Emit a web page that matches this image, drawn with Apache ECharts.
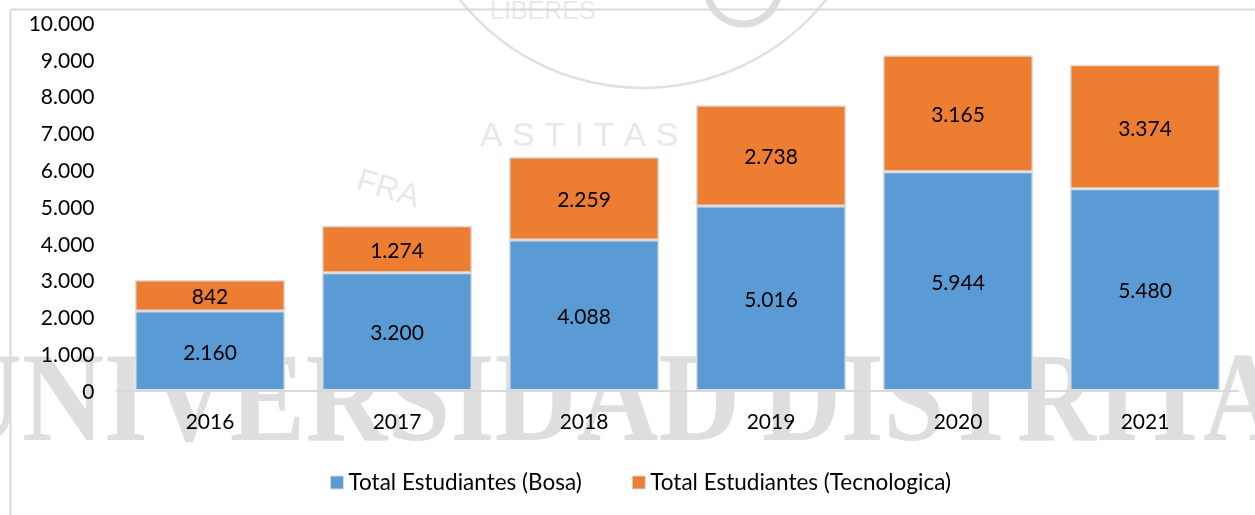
<!DOCTYPE html>
<html><head><meta charset="utf-8">
<style>html,body{margin:0;padding:0;background:#fff}#c{width:1255px;height:515px}</style>
<script src="https://cdn.jsdelivr.net/npm/echarts@6/dist/echarts.min.js"></script>
</head><body><div id="c"></div>
<script>
const categories = ['2016','2017','2018','2019','2020','2021'];
const bosa = [2160,3200,4088,5016,5944,5480];
const tecnologica = [842,1274,2259,2738,3165,3374];
const seriesNames = ['Total Estudiantes (Bosa)','Total Estudiantes (Tecnologica)'];
const watermarkLeft = 'UNIVERSIDAD';
const watermarkRight = 'DISTRITA';
const fmt = v => String(v).replace(/\B(?=(\d{3})+(?!\d))/g,'.');
const FONT = 'Lato';
const chart = echarts.init(document.getElementById('c'),null,{renderer:'canvas'});
const mkSeries = (name,data,color)=>({
  name,type:'bar',stack:'t',data,barWidth:150,
  itemStyle:{color,borderColor:'#dcdcdc',borderWidth:1.5},
  label:{show:true,position:'inside',offset:[0,2],color:'#000',fontSize:21,fontFamily:FONT,formatter:p=>fmt(p.value)}
});
const faint = (text,x,y,size,rotation)=>({type:'text',z:-9,x,y,rotation:rotation||0,
  style:{text,font:size+'px "Liberation Sans"',fill:'#e8e8e8'}});
const mark = (text,x,scaleX)=>({type:'text',z:-10,x,y:344,scaleX,
  style:{text,font:'bold 126px "Liberation Serif"',fill:'#dedede'}});
chart.setOption({
  animation:false,
  backgroundColor:'#fff',
  grid:{left:116.5,right:16.5,top:22.5,bottom:124.5},
  xAxis:{type:'category',data:categories,
    axisLine:{lineStyle:{color:'#d9d9d9',width:2}},axisTick:{show:false},
    axisLabel:{color:'#000',fontSize:21,fontFamily:FONT,margin:21}},
  yAxis:{type:'value',min:0,max:10000,interval:1000,
    axisLine:{show:false},axisTick:{show:false},splitLine:{show:false},
    axisLabel:{color:'#000',fontSize:21,fontFamily:FONT,margin:22,verticalAlign:'top',lineHeight:3,formatter:v=>fmt(v)}},
  legend:{top:466,left:325,itemWidth:13,itemHeight:13,itemGap:50,icon:'rect',
    itemStyle:{borderColor:'#d9d9d9',borderWidth:1},
    textStyle:{color:'#000',fontSize:22.5,fontFamily:FONT},
    data:seriesNames},
  series:[mkSeries(seriesNames[0],bosa,'#5b9bd5'),mkSeries(seriesNames[1],tecnologica,'#ed7d31')],
  graphic:[
    mark(watermarkLeft,-60,0.9),
    mark(watermarkRight,762,0.867),
    {type:'arc',z:-9,shape:{cx:643,cy:-146,r:234,startAngle:0.3,endAngle:2.85},style:{stroke:'#e0e0e0',fill:null,lineWidth:2.5}},
    {type:'arc',z:-9,shape:{cx:743,cy:-12,r:36,startAngle:0.2,endAngle:2.95},style:{stroke:'#dcdcdc',fill:null,lineWidth:7}},
    faint('LIBERES',490,0,25),
    faint('A S T I T A S   D',480,120,34),
    faint('FRA',362,165,32,-0.3),
    {type:'line',z:-5,shape:{x1:10.5,y1:9.5,x2:1255,y2:9.5},style:{stroke:'#d9d9d9',lineWidth:2}},
    {type:'line',z:-5,shape:{x1:10.5,y1:9.5,x2:10.5,y2:515},style:{stroke:'#d9d9d9',lineWidth:2}}
  ]
});
</script></body></html>
